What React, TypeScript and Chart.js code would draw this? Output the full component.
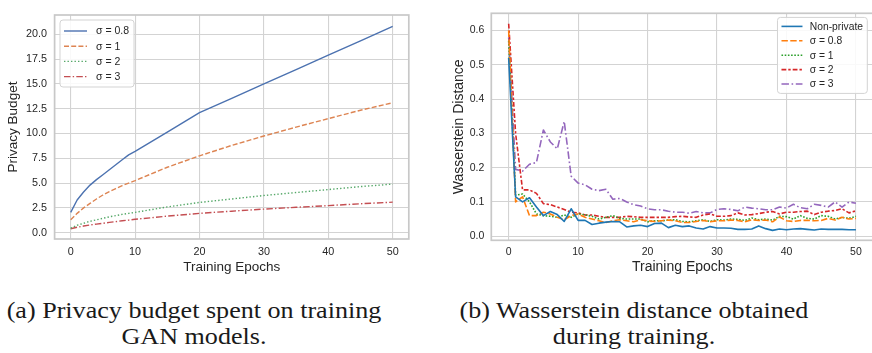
import React, { useEffect, useRef } from "react";
import { Chart, registerables } from "chart.js";

Chart.register(...registerables);

// ---------- shared ----------
const EPOCH_TICKS = [0, 10, 20, 30, 40, 50];
const SANS = '"Liberation Sans", Arial, Helvetica, sans-serif';
const TEXT = "#262626";
const GRID = "#d3d3d3";
const FRAME = "#c8c8c8";

// ---------- (a) privacy budget ----------
const budgetEpochs = [0, 1, 2, 3, 4, 5, 6, 7, 8, 9, 10, 15, 20, 25, 30, 35, 40, 45, 50];
const budgetSigma08 = [2.05, 3.3, 4.1, 4.8, 5.35, 5.85, 6.35, 6.85, 7.35, 7.85, 8.2, 10.15, 12.1, 13.55, 15.0, 16.45, 17.9, 19.35, 20.8];
const budgetSigma1 = [1.3, 1.95, 2.5, 2.95, 3.4, 3.8, 4.15, 4.45, 4.75, 5.0, 5.25, 6.6, 7.75, 8.8, 9.75, 10.65, 11.5, 12.35, 13.1];
const budgetSigma2 = [0.45, 0.75, 0.95, 1.15, 1.3, 1.45, 1.6, 1.72, 1.85, 1.95, 2.05, 2.6, 3.05, 3.4, 3.75, 4.05, 4.35, 4.65, 4.9];
const budgetSigma3 = [0.4, 0.55, 0.67, 0.78, 0.87, 0.95, 1.04, 1.12, 1.2, 1.27, 1.35, 1.67, 1.95, 2.17, 2.38, 2.56, 2.73, 2.92, 3.08];
const budgetTicks = [0, 2.5, 5, 7.5, 10, 12.5, 15, 17.5, 20];
const budgetLabels = ["σ = 0.8", "σ = 1", "σ = 2", "σ = 3"];

// ---------- (b) Wasserstein distance ----------
const distEpochs = [
  0, 1, 2, 3, 4, 5, 6, 7, 8, 9, 10, 11, 12, 13, 14, 15, 16, 17, 18, 19, 20, 21, 22, 23, 24, 25,
  26, 27, 28, 29, 30, 31, 32, 33, 34, 35, 36, 37, 38, 39, 40, 41, 42, 43, 44, 45, 46, 47, 48, 49, 50,
];
const distNonPrivate = [
  0.52, 0.115, 0.1, 0.112, 0.085, 0.06, 0.072, 0.063, 0.043, 0.08, 0.046, 0.046, 0.034, 0.038, 0.041, 0.043, 0.042,
  0.027, 0.03, 0.032, 0.028, 0.037, 0.038, 0.025, 0.032, 0.028, 0.03, 0.024, 0.021, 0.028, 0.024, 0.024, 0.023,
  0.02, 0.02, 0.021, 0.03, 0.022, 0.017, 0.021, 0.019, 0.021, 0.022, 0.02, 0.018, 0.021, 0.02, 0.02, 0.02, 0.019, 0.019,
];
const distSigma08 = [
  0.6, 0.1, 0.115, 0.06, 0.06, 0.07, 0.065, 0.055, 0.048, 0.06, 0.065, 0.055, 0.05, 0.045, 0.04, 0.045, 0.048,
  0.045, 0.042, 0.048, 0.045, 0.043, 0.045, 0.047, 0.045, 0.04, 0.04, 0.043, 0.046, 0.042, 0.045, 0.045, 0.047,
  0.046, 0.042, 0.048, 0.046, 0.047, 0.042, 0.056, 0.045, 0.043, 0.046, 0.046, 0.045, 0.046, 0.052, 0.047, 0.055, 0.05, 0.052,
];
const distSigma1 = [
  0.57, 0.12, 0.123, 0.1, 0.065, 0.06, 0.058, 0.055, 0.062, 0.055, 0.065, 0.062, 0.058, 0.05, 0.055, 0.06, 0.052,
  0.05, 0.05, 0.05, 0.042, 0.045, 0.045, 0.047, 0.048, 0.043, 0.042, 0.045, 0.048, 0.043, 0.048, 0.047, 0.05,
  0.049, 0.046, 0.053, 0.048, 0.05, 0.047, 0.058, 0.057, 0.05, 0.06, 0.052, 0.05, 0.06, 0.058, 0.05, 0.055, 0.052, 0.058,
];
const distSigma2 = [
  0.62, 0.3, 0.135, 0.135, 0.125, 0.095, 0.092, 0.085, 0.078, 0.07, 0.068, 0.062, 0.062, 0.058, 0.055, 0.055, 0.055,
  0.058, 0.057, 0.055, 0.055, 0.055, 0.055, 0.055, 0.057, 0.058, 0.056, 0.055, 0.062, 0.065, 0.058, 0.058, 0.06,
  0.068, 0.062, 0.063, 0.066, 0.07, 0.072, 0.065, 0.07, 0.07, 0.072, 0.073, 0.063, 0.07, 0.073, 0.075, 0.08, 0.068, 0.074,
];
const distSigma3 = [
  0.58, 0.195, 0.19, 0.21, 0.215, 0.31, 0.275, 0.255, 0.335, 0.175, 0.155, 0.15, 0.137, 0.133, 0.137, 0.108, 0.11,
  0.1, 0.092, 0.088, 0.08, 0.077, 0.077, 0.073, 0.07, 0.07, 0.067, 0.072, 0.068, 0.068, 0.078, 0.08, 0.078,
  0.074, 0.085, 0.082, 0.08, 0.077, 0.077, 0.085, 0.082, 0.093, 0.083, 0.08, 0.093, 0.09, 0.085, 0.1, 0.085, 0.1, 0.096,
];
const distTicks = [0, 0.1, 0.2, 0.3, 0.4, 0.5, 0.6];
const distLabels = ["Non-private", "σ = 0.8", "σ = 1", "σ = 2", "σ = 3"];

const toPoints = (xs: number[], ys: number[]) => xs.map((x, i) => ({ x, y: ys[i] }));

// Full box around the plotting area (all four spines).
const framePlugin = {
  id: "frame",
  afterDatasetsDraw(chart: any) {
    const { ctx, chartArea: a } = chart;
    ctx.save();
    ctx.strokeStyle = FRAME;
    ctx.lineWidth = 1.7;
    ctx.strokeRect(a.left, a.top, a.right - a.left, a.bottom - a.top);
    ctx.restore();
  },
};

// Legend drawn inside the plotting area from the dataset styles.
const insetLegendPlugin = {
  id: "insetLegend",
  afterDraw(chart: any, _args: any, o: any) {
    if (!o || !o.display) return;
    const { ctx, chartArea: a } = chart;
    const items = chart.data.datasets;
    ctx.save();
    ctx.font = `${o.fontSize}px ${SANS}`;
    const textW = Math.max(...items.map((d: any) => ctx.measureText(d.label).width));
    const w = o.padX + o.lineLen + o.gap + textW + o.padR;
    const h = o.padTop + o.rowH * (items.length - 1) + o.padBottom;
    const x = o.corner === "tr" ? a.right - o.offsetX - w : a.left + o.offsetX;
    const y = a.top + o.offsetY;
    ctx.beginPath();
    ctx.roundRect(x, y, w, h, 3);
    ctx.fillStyle = "rgba(255,255,255,0.85)";
    ctx.fill();
    ctx.strokeStyle = "#d3d3d3";
    ctx.lineWidth = 1;
    ctx.stroke();
    items.forEach((d: any, i: number) => {
      const cy = y + o.padTop + i * o.rowH;
      ctx.beginPath();
      ctx.setLineDash(d.borderDash || []);
      ctx.strokeStyle = d.borderColor;
      ctx.lineWidth = d.borderWidth;
      ctx.moveTo(x + o.padX, cy);
      ctx.lineTo(x + o.padX + o.lineLen, cy);
      ctx.stroke();
      ctx.setLineDash([]);
      ctx.fillStyle = TEXT;
      ctx.textBaseline = "middle";
      ctx.textAlign = "left";
      ctx.fillText(d.label, x + o.padX + o.lineLen + o.gap, cy + 0.5);
    });
    ctx.restore();
  },
};

type PanelCfg = {
  yMin: number;
  yMax: number;
  yTicks: number[];
  yTitle: string;
  yAxisW: number;
  yTitlePad: number;
  yTickPad: number;
  xAxisH: number;
  xTickPad: number;
  xTitlePadBottom: number;
  padTop: number;
  padRight: number;
  tickSize: number;
  titleSize: number;
  legend: any;
};

function panelOptions(c: PanelCfg): any {
  return {
    animation: false,
    responsive: false,
    maintainAspectRatio: false,
    layout: { padding: { left: 0, top: c.padTop, right: c.padRight, bottom: 0 } },
    elements: { point: { radius: 0 }, line: { tension: 0, borderCapStyle: "butt", borderJoinStyle: "round" } },
    plugins: {
      legend: { display: false },
      tooltip: { enabled: false },
      insetLegend: c.legend,
    },
    scales: {
      x: {
        type: "linear",
        min: -2.5,
        max: 52.5,
        afterBuildTicks: (s: any) => {
          s.ticks = EPOCH_TICKS.map((value) => ({ value }));
        },
        afterFit: (s: any) => {
          s.height = c.xAxisH;
        },
        grid: { color: GRID, lineWidth: 1.1, drawTicks: false },
        border: { display: false },
        ticks: {
          padding: c.xTickPad,
          color: TEXT,
          font: { family: SANS, size: c.tickSize },
          maxRotation: 0,
          autoSkip: false,
          callback: (v: any) => String(v),
        },
        title: {
          display: true,
          text: "Training Epochs",
          color: TEXT,
          font: { family: SANS, size: c.titleSize },
          padding: { top: 0, bottom: c.xTitlePadBottom },
        },
      },
      y: {
        type: "linear",
        min: c.yMin,
        max: c.yMax,
        afterBuildTicks: (s: any) => {
          s.ticks = c.yTicks.map((value) => ({ value }));
        },
        afterFit: (s: any) => {
          s.width = c.yAxisW;
        },
        grid: { color: GRID, lineWidth: 1.1, drawTicks: false },
        border: { display: false },
        ticks: {
          padding: c.yTickPad,
          color: TEXT,
          font: { family: SANS, size: c.tickSize },
          autoSkip: false,
          callback: (v: any) => Number(v).toFixed(1),
        },
        title: {
          display: true,
          text: c.yTitle,
          color: TEXT,
          font: { family: SANS, size: c.titleSize },
          padding: { top: c.yTitlePad, bottom: 0 },
        },
      },
    },
  };
}

function line(label: string, xs: number[], ys: number[], color: string, width: number, dash: number[]) {
  return {
    label,
    data: toPoints(xs, ys),
    borderColor: color,
    backgroundColor: color,
    borderWidth: width,
    borderDash: dash,
    fill: false,
  };
}

function BudgetChart() {
  const ref = useRef<HTMLCanvasElement | null>(null);
  useEffect(() => {
    if (!ref.current) return;
    const lw = 1.4;
    const chart = new Chart(ref.current, {
      type: "line",
      data: {
        datasets: [
          line(budgetLabels[0], budgetEpochs, budgetSigma08, "#4c72b0", lw, []),
          line(budgetLabels[1], budgetEpochs, budgetSigma1, "#dd8452", lw, [5, 2.2]),
          line(budgetLabels[2], budgetEpochs, budgetSigma2, "#55a868", lw, [1.4, 2.1]),
          line(budgetLabels[3], budgetEpochs, budgetSigma3, "#c44e52", lw, [6.5, 2.2, 1.4, 2.2]),
        ],
      },
      options: panelOptions({
        yMin: -0.635,
        yMax: 21.95,
        yTicks: budgetTicks,
        yTitle: "Privacy Budget",
        yAxisW: 54.6,
        yTitlePad: 5,
        yTickPad: 7.5,
        xAxisH: 51,
        xTickPad: 7,
        xTitlePadBottom: 14.5,
        padTop: 15,
        padRight: 21.2,
        tickSize: 10.8,
        titleSize: 13.5,
        legend: {
          display: true,
          corner: "tl",
          offsetX: 5.4,
          offsetY: 5,
          padX: 4,
          lineLen: 23,
          gap: 9,
          padR: 5,
          padTop: 11,
          rowH: 15.2,
          padBottom: 10.4,
          fontSize: 10.5,
        },
      }),
      plugins: [framePlugin, insetLegendPlugin],
    });
    return () => chart.destroy();
  }, []);
  return (
    <canvas
      ref={ref}
      width={430}
      height={290}
      style={{ position: "absolute", left: 0, top: 0, width: 430, height: 290 }}
    />
  );
}

function DistanceChart() {
  const ref = useRef<HTMLCanvasElement | null>(null);
  useEffect(() => {
    if (!ref.current) return;
    const lw = 1.6;
    const chart = new Chart(ref.current, {
      type: "line",
      data: {
        datasets: [
          line(distLabels[0], distEpochs, distNonPrivate, "#1f77b4", lw, []),
          line(distLabels[1], distEpochs, distSigma08, "#ff7f0e", lw, [6.4, 2.4]),
          line(distLabels[2], distEpochs, distSigma1, "#2ca02c", lw, [1.6, 1.6]),
          line(distLabels[3], distEpochs, distSigma2, "#d62728", lw, [4.8, 2, 2.4, 2]),
          line(distLabels[4], distEpochs, distSigma3, "#9467bd", lw, [7.5, 2.6, 1.6, 2.6]),
        ],
      },
      options: panelOptions({
        yMin: -0.012,
        yMax: 0.6504,
        yTicks: distTicks,
        yTitle: "Wasserstein Distance",
        yAxisW: 61.3,
        yTitlePad: 20.5,
        yTickPad: 7,
        xAxisH: 49.7,
        xTickPad: 6,
        xTitlePadBottom: 14.5,
        padTop: 2.6,
        padRight: 2.7,
        tickSize: 10.5,
        titleSize: 14,
        legend: {
          display: true,
          corner: "tr",
          offsetX: 6,
          offsetY: 4.1,
          padX: 4,
          lineLen: 21,
          gap: 7.3,
          padR: 4.3,
          padTop: 9,
          rowH: 14.4,
          padBottom: 9.4,
          fontSize: 10.3,
        },
      }),
      plugins: [framePlugin, insetLegendPlugin],
    });
    return () => chart.destroy();
  }, []);
  return (
    <canvas
      ref={ref}
      width={446}
      height={290}
      style={{ position: "absolute", left: 430, top: 0, width: 446, height: 290 }}
    />
  );
}

const captionStyle = (cx: number, top: number): React.CSSProperties => ({
  position: "absolute",
  left: cx - 250,
  top,
  width: 500,
  textAlign: "center",
  fontFamily: '"Liberation Serif", "Times New Roman", serif',
  fontSize: 23.3,
  lineHeight: "26px",
  color: "#1a1a1a",
  whiteSpace: "nowrap",
  transform: "scaleX(1.12)",
  transformOrigin: "center",
});

export default function App() {
  return (
    <div
      style={{
        position: "fixed",
        left: 0,
        top: 0,
        width: 872,
        height: 353,
        overflow: "hidden",
        background: "#ffffff",
      }}
    >
      <BudgetChart />
      <DistanceChart />
      <div style={captionStyle(194, 297)}>(a) Privacy budget spent on training</div>
      <div style={captionStyle(194, 323)}>GAN models.</div>
      <div style={captionStyle(634, 297)}>(b) Wasserstein distance obtained</div>
      <div style={captionStyle(634, 323)}>during training.</div>
    </div>
  );
}
